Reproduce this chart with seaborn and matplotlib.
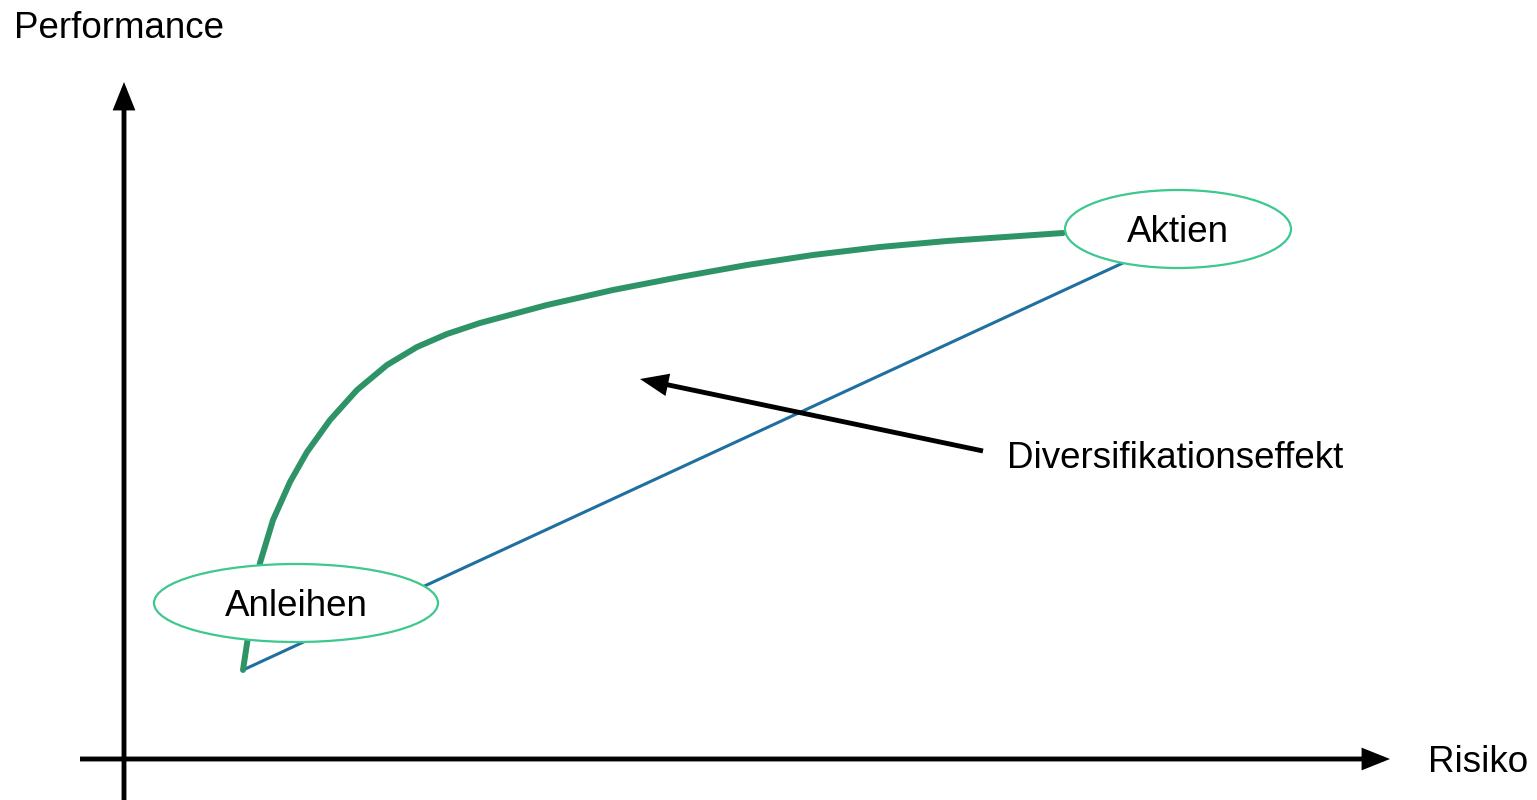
import matplotlib
matplotlib.use("Agg")
import matplotlib.pyplot as plt
from matplotlib.patches import Ellipse
import pandas as pd
import seaborn as sns

# efficient frontier (risk, performance), conceptual units
risk = [1.19, 1.24, 1.30, 1.36, 1.49, 1.66, 1.83, 2.06, 2.33, 2.63, 2.93,
        3.23, 3.56, 4.23, 4.89, 5.56, 6.23, 6.89, 7.56, 8.23, 9.39]
perf = [0.89, 1.22, 1.59, 1.96, 2.39, 2.77, 3.07, 3.39, 3.69, 3.94, 4.12,
        4.25, 4.36, 4.54, 4.69, 4.82, 4.94, 5.04, 5.12, 5.18, 5.26]

# straight combination line bonds -> stocks
line_risk = [1.19, 10.01]
line_perf = [0.89, 4.97]

# labelled assets: name, risk, performance, ellipse width, height
assets = ["Anleihen", "Aktien"]
asset_risk = [1.72, 10.54]
asset_perf = [1.56, 5.30]
ell_w = [2.84, 2.26]
ell_h = [0.78, 0.78]

frontier = pd.DataFrame({"Risiko": risk, "Performance": perf})
straight = pd.DataFrame({"Risiko": line_risk, "Performance": line_perf})

sns.set_style("white")
plt.rcParams["font.family"] = ["Liberation Sans", "DejaVu Sans"]
plt.rcParams["text.color"] = "black"
plt.rcParams["lines.solid_joinstyle"] = "round"

fig = plt.figure(figsize=(15.37, 8), dpi=100)
ax = fig.add_axes([0, 0, 1, 1])
ax.set_xlim(-1.24, 14.13)
ax.set_ylim(-0.41, 7.59)
ax.axis("off")

sns.lineplot(data=straight, x="Risiko", y="Performance", ax=ax,
             color="#1f6fa0", linewidth=2.2, zorder=2)
sns.lineplot(data=frontier, x="Risiko", y="Performance", ax=ax, sort=False,
             color="#2e9468", linewidth=4.3, zorder=3)

for name, xr, yp, w, h in zip(assets, asset_risk, asset_perf, ell_w, ell_h):
    ax.add_patch(Ellipse((xr, yp), w, h, facecolor="white",
                         edgecolor="#3cc88e", linewidth=1.6, zorder=4))
    ax.text(xr, yp - 0.04, name, ha="center", va="center", fontsize=26.5,
            color="black", zorder=5)

# axes with arrowheads
arrow_kw = dict(arrowstyle="-|>,head_length=0.7,head_width=0.28", color="black",
                lw=3.5, mutation_scale=20, shrinkA=0, shrinkB=0,
                joinstyle="miter", capstyle="butt")
ax.annotate("", xy=(0, 6.77), xytext=(0, -0.41), arrowprops=arrow_kw)
ax.annotate("", xy=(12.66, 0), xytext=(-0.44, 0), arrowprops=arrow_kw)

ax.text(-1.10, 7.31, "Performance", ha="left", va="center", fontsize=26.5, color="black")
ax.text(13.04, -0.04, "Risiko", ha="left", va="center", fontsize=26.5, color="black")

# diversification arrow
ax.annotate("", xy=(5.16, 3.80), xytext=(8.59, 3.08), arrowprops=arrow_kw)
ax.text(8.83, 3.00, "Diversifikationseffekt", ha="left", va="center",
        fontsize=26.5, color="black")

fig.savefig("out.png", dpi=100)
